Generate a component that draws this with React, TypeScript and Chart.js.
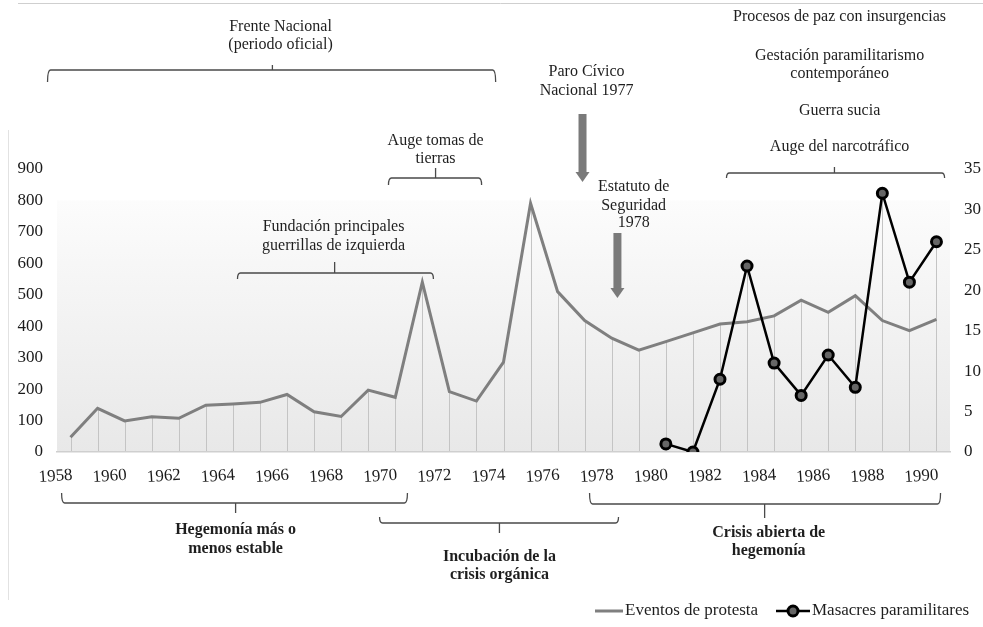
import React, { useEffect, useRef } from "react";
import { Chart, registerables } from "chart.js";

Chart.register(...registerables);

const FONT = "'Liberation Serif', 'Times New Roman', serif";

// ---- Data ----
const years = [
  1958, 1959, 1960, 1961, 1962, 1963, 1964, 1965, 1966, 1967, 1968,
  1969, 1970, 1971, 1972, 1973, 1974, 1975, 1976, 1977, 1978, 1979,
  1980, 1981, 1982, 1983, 1984, 1985, 1986, 1987, 1988, 1989, 1990,
];
const protestEvents = [
  47, 139, 99, 112, 107, 149, 153, 158, 183, 128, 113,
  197, 174, 540, 192, 162, 286, 791, 510, 418, 362, 324,
  351, 379, 407, 414, 433, 483, 444, 497, 418, 386, 422,
];
const massacreYears = [1980, 1981, 1982, 1983, 1984, 1985, 1986, 1987, 1988, 1989, 1990];
const massacres = [1, 0, 9, 23, 11, 7, 12, 8, 32, 21, 26];

const xTickYears = [1958, 1960, 1962, 1964, 1966, 1968, 1970, 1972, 1974, 1976, 1978, 1980, 1982, 1984, 1986, 1988, 1990];
const seriesLabels = ["Eventos de protesta", "Masacres paramilitares"];

// ---- Annotation layout (text in data years, pixel rows) ----
const topTexts: [string, number, number][] = [
  ["Frente Nacional", 1965.76, 27],
  ["(periodo oficial)", 1965.76, 45],
  ["Paro Cívico", 1977.07, 72],
  ["Nacional 1977", 1977.07, 91],
  ["Estatuto de", 1978.81, 187],
  ["Seguridad", 1978.81, 206],
  ["1978", 1978.81, 223],
  ["Procesos de paz con insurgencias", 1986.42, 17],
  ["Gestación paramilitarismo", 1986.42, 56],
  ["contemporáneo", 1986.42, 74],
  ["Guerra sucia", 1986.42, 111],
  ["Auge del narcotráfico", 1986.42, 147],
  ["Auge tomas de", 1971.49, 141],
  ["tierras", 1971.49, 159],
  ["Fundación principales", 1967.72, 227],
  ["guerrillas de izquierda", 1967.72, 246],
];
const boldTexts: [string, number, number][] = [
  ["Hegemonía más o", 1964.1, 530],
  ["menos estable", 1964.1, 549],
  ["Incubación de la", 1973.85, 557],
  ["crisis orgánica", 1973.85, 575],
  ["Crisis abierta de", 1983.8, 533],
  ["hegemonía", 1983.8, 551],
];
// [from, to, mid, y, hook, tick]
const brackets: [number, number, number, number, number, number][] = [
  [1957.15, 1973.71, 1965.46, 70, 12, -5],
  [1969.75, 1973.19, 1971.49, 178, 7, -10],
  [1964.17, 1971.41, 1967.76, 273, 6, -11],
  [1982.24, 1990.3, 1986.23, 173, 5, -6],
  [1957.67, 1970.45, 1964.1, 503, -10, 10],
  [1969.42, 1978.25, 1973.85, 523, -6, 10],
  [1977.18, 1990.15, 1983.65, 504, -11, 14],
];
// [year, yStart, yTip]
const arrows: [number, number, number][] = [
  [1976.92, 114, 182],
  [1978.21, 233, 298],
];

const decorPlugin = {
  id: "decor",
  beforeDraw(chart: any) {
    const { ctx, chartArea, scales } = chart;
    const x = scales.x, y = scales.y, y1 = scales.y1;
    ctx.save();
    // page frame lines
    ctx.strokeStyle = "#cfcfcf";
    ctx.lineWidth = 1;
    ctx.beginPath();
    ctx.moveTo(18, 3.5);
    ctx.lineTo(983, 3.5);
    ctx.stroke();
    ctx.strokeStyle = "#e2e2e2";
    ctx.beginPath();
    ctx.moveTo(8.5, 130);
    ctx.lineTo(8.5, 600);
    ctx.stroke();
    // gradient plot background
    const top = y.getPixelForValue(800);
    const bottom = y.getPixelForValue(0);
    const g = ctx.createLinearGradient(0, top, 0, bottom);
    g.addColorStop(0, "#fcfcfc");
    g.addColorStop(1, "#e8e8e8");
    ctx.fillStyle = g;
    ctx.fillRect(chartArea.left, top, chartArea.right - chartArea.left, bottom - top);
    // drop lines
    ctx.strokeStyle = "#c4c4c4";
    ctx.lineWidth = 1;
    years.forEach((yr, i) => {
      const px = Math.round(x.getPixelForValue(yr)) + 0.5;
      let topY = y.getPixelForValue(protestEvents[i]);
      const mi = massacreYears.indexOf(yr);
      if (mi >= 0) topY = Math.min(topY, y1.getPixelForValue(massacres[mi]));
      ctx.beginPath();
      ctx.moveTo(px, topY);
      ctx.lineTo(px, bottom);
      ctx.stroke();
    });
    ctx.restore();
  },
  afterDraw(chart: any) {
    const { ctx, scales } = chart;
    const x = scales.x;
    ctx.save();
    ctx.fillStyle = "#1e1e1e";
    ctx.textAlign = "center";
    ctx.textBaseline = "middle";
    ctx.font = `16px ${FONT}`;
    topTexts.forEach(([t, yr, py]) => ctx.fillText(t, x.getPixelForValue(yr), py));
    ctx.font = `bold 16px ${FONT}`;
    boldTexts.forEach(([t, yr, py]) => ctx.fillText(t, x.getPixelForValue(yr), py));

    // brackets
    ctx.strokeStyle = "#4a4a4a";
    ctx.lineWidth = 1.3;
    brackets.forEach(([a, b, m, py, hook, tick]) => {
      const xa = x.getPixelForValue(a), xb = x.getPixelForValue(b), xm = x.getPixelForValue(m);
      ctx.beginPath();
      ctx.moveTo(xa, py + hook);
      ctx.quadraticCurveTo(xa, py, xa + 3, py);
      ctx.lineTo(xb - 3, py);
      ctx.quadraticCurveTo(xb, py, xb, py + hook);
      ctx.moveTo(xm, py);
      ctx.lineTo(xm, py + tick);
      ctx.stroke();
    });

    // arrows
    ctx.fillStyle = "#7a7a7a";
    arrows.forEach(([yr, y0, tip]) => {
      const cx = x.getPixelForValue(yr);
      const headH = 10;
      ctx.fillRect(cx - 4, y0, 8, tip - y0 - headH + 1);
      ctx.beginPath();
      ctx.moveTo(cx - 7, tip - headH);
      ctx.lineTo(cx + 7, tip - headH);
      ctx.lineTo(cx, tip);
      ctx.closePath();
      ctx.fill();
    });

    // legend
    const ly = 611;
    ctx.strokeStyle = "#7f7f7f";
    ctx.lineWidth = 3;
    ctx.beginPath();
    ctx.moveTo(595, ly);
    ctx.lineTo(623, ly);
    ctx.stroke();
    ctx.fillStyle = "#1e1e1e";
    ctx.textAlign = "left";
    ctx.font = `17px ${FONT}`;
    ctx.fillText(seriesLabels[0], 625, ly);
    ctx.strokeStyle = "#000";
    ctx.lineWidth = 2.5;
    ctx.beginPath();
    ctx.moveTo(776, ly);
    ctx.lineTo(810, ly);
    ctx.stroke();
    ctx.beginPath();
    ctx.arc(793, ly, 5, 0, Math.PI * 2);
    ctx.fillStyle = "#666";
    ctx.fill();
    ctx.lineWidth = 3;
    ctx.stroke();
    ctx.fillStyle = "#1e1e1e";
    ctx.fillText(seriesLabels[1], 812, ly);
    ctx.restore();
  },
};

export default function App() {
  const ref = useRef<HTMLCanvasElement | null>(null);

  useEffect(() => {
    if (!ref.current) return;
    const tickFont = { family: FONT, size: 17 };
    const chart = new Chart(ref.current, {
      type: "line",
      data: {
        datasets: [
          {
            label: seriesLabels[1],
            data: massacreYears.map((yr, i) => ({ x: yr, y: massacres[i] })),
            yAxisID: "y1",
            borderColor: "#000",
            borderWidth: 2.5,
            pointRadius: 5,
            pointBorderWidth: 3,
            pointBackgroundColor: "#666",
            pointBorderColor: "#000",
            tension: 0,
          },
          {
            label: seriesLabels[0],
            data: years.map((yr, i) => ({ x: yr, y: protestEvents[i] })),
            yAxisID: "y",
            borderColor: "#7f7f7f",
            borderWidth: 3,
            pointRadius: 0,
            tension: 0,
          },
        ],
      },
      options: {
        responsive: false,
        animation: false,
        devicePixelRatio: 1,
        layout: { padding: { top: 169, left: 0, right: 0, bottom: 0 } },
        plugins: { legend: { display: false }, tooltip: { enabled: false } },
        scales: {
          x: {
            type: "linear",
            min: 1957.5,
            max: 1990.5,
            afterBuildTicks: (s: any) => {
              s.ticks = xTickYears.map((v) => ({ value: v }));
            },
            afterFit: (s: any) => {
              s.height = 175;
            },
            ticks: {
              callback: (v: any) => String(v),
              font: tickFont,
              color: "#1a1a1a",
              padding: 13,
              labelOffset: 2,
              minRotation: 4,
              maxRotation: 4,
              autoSkip: false,
            },
            grid: { display: false, drawTicks: false },
            border: { display: true, color: "#cfcfcf", width: 1.5 },
          },
          y: {
            position: "left",
            min: 0,
            max: 900,
            afterFit: (s: any) => {
              s.width = 57;
            },
            ticks: { stepSize: 100, font: tickFont, color: "#1a1a1a", padding: 14 },
            grid: { display: false, drawTicks: false },
            border: { display: false },
          },
          y1: {
            position: "right",
            min: 0,
            max: 35,
            afterFit: (s: any) => {
              s.width = 33;
            },
            ticks: { stepSize: 5, font: tickFont, color: "#1a1a1a", padding: 14 },
            grid: { display: false, drawTicks: false },
            border: { display: false },
          },
        },
      } as any,
      plugins: [decorPlugin],
    });
    return () => chart.destroy();
  }, []);

  return (
    <div style={{ position: "fixed", left: 0, top: 0, width: 983, height: 627, background: "#fff" }}>
      <canvas ref={ref} width={983} height={627} style={{ display: "block", width: 983, height: 627 }} />
    </div>
  );
}
